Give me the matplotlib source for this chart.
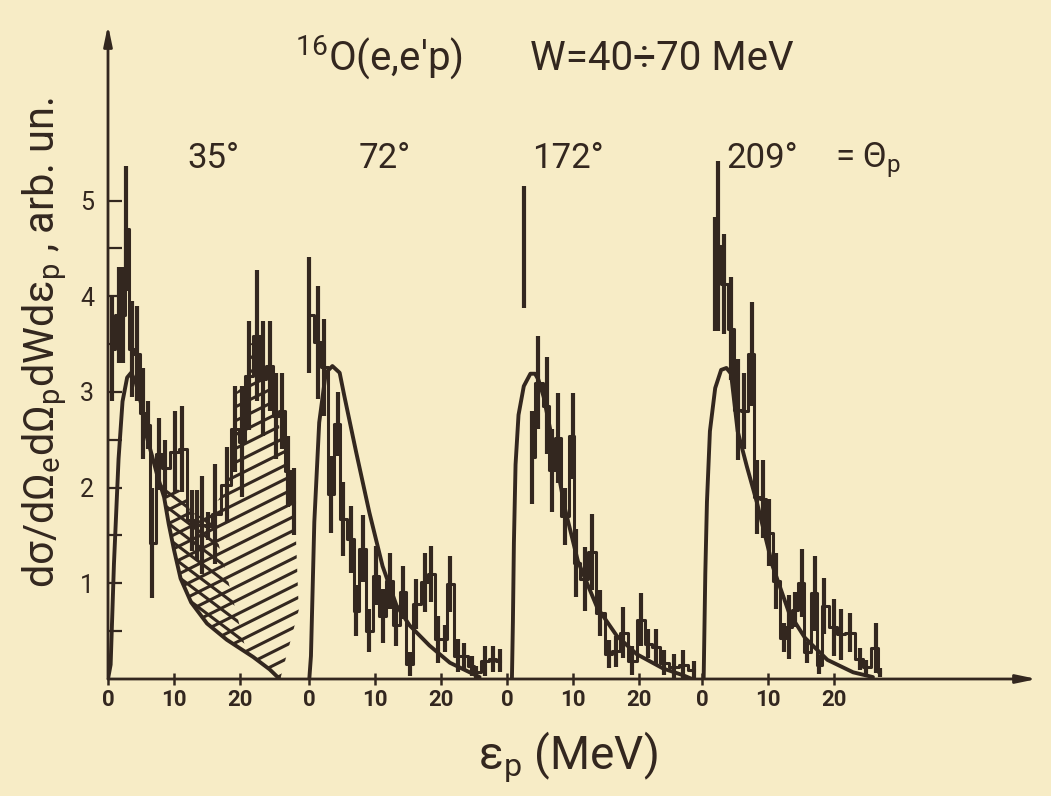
import numpy as np
import matplotlib
matplotlib.use('Agg')
import matplotlib.pyplot as plt
from matplotlib.patches import Polygon

INK = '#33271f'
PAPER = '#f7ecc6'

plt.rcParams['font.family'] = ['Roboto', 'DejaVu Sans']
plt.rcParams['mathtext.default'] = 'regular'

# where each spectrum starts on the common energy axis (MeV)
offsets = [0.0, 30.5, 60.5, 90.0]
angle_labels = ['35°', '72°', '172°', '209°']
tick_values = [0, 10, 20]

# --- measured spectra: proton energy, lower / upper end of the error bar ---
# 35 deg
e1 = [0.6, 1.6, 2.2, 2.8, 3.6, 4.4, 5.3, 6.1, 6.6, 7.8, 8.6, 10.2, 11.2, 12.8, 13.5,
      14.3, 15.2, 16.2, 18.0, 19.3, 20.3, 21.3, 22.5, 23.5, 24.5, 25.4, 26.3, 27.2, 28.2]
lo1 = [2.9, 3.3, 3.3, 4.05, 2.95, 2.9, 2.3, 2.4, 0.85, 1.98, 1.9, 1.95, 1.95, 1.34, 1.24,
       1.1, 1.45, 1.2, 1.63, 2.16, 1.9, 2.6, 2.9, 2.54, 2.8, 2.3, 2.4, 1.8, 1.5]
hi1 = [4.0, 4.3, 4.3, 5.36, 3.95, 3.9, 3.25, 2.9, 2.0, 2.73, 2.5, 2.8, 2.85, 1.98, 1.97,
       2.12, 1.75, 2.25, 2.42, 3.06, 3.06, 3.74, 4.27, 3.74, 3.74, 3.2, 3.2, 2.54, 2.2]

# 72 deg
e2 = [0.0, 1.3, 2.3, 3.3, 4.3, 5.1, 6.3, 7.1, 8.1, 9.1, 10.1, 11.1, 12.2, 13.2, 14.2,
      15.2, 16.2, 17.5, 18.5, 19.5, 20.5, 21.3, 22.5, 23.5, 24.6, 25.3, 26.6, 27.8, 28.9]
lo2 = [3.2, 2.93, 2.75, 1.53, 2.33, 1.29, 1.11, 0.45, 1.01, 0.28, 0.77, 0.38, 0.73, 0.35, 0.63,
       0.03, 0.52, 0.70, 0.80, 0.17, 0.28, 0.70, 0.07, 0.10, 0.03, 0.0, 0.03, 0.07, 0.07]
hi2 = [4.41, 4.11, 3.76, 2.33, 3.0, 2.06, 1.81, 0.98, 1.71, 0.73, 1.39, 0.94, 1.32, 0.77, 1.18,
       0.28, 1.05, 1.32, 1.39, 0.66, 0.56, 1.29, 0.42, 0.38, 0.24, 0.14, 0.35, 0.35, 0.31]

# 172 deg (plus one lone bar near the rise)
lone3_e, lone3_lo, lone3_hi = 2.6, 3.88, 5.15
e3 = [3.7, 4.7, 6.0, 6.7, 7.7, 8.7, 9.9, 10.4, 11.7, 12.9, 14.1, 15.4, 16.4, 17.6,
      18.9, 20.3, 21.3, 22.6, 23.8, 25.3, 26.6, 28.3]
lo3 = [1.83, 2.61, 2.35, 1.75, 2.05, 1.4, 2.09, 0.86, 0.71, 0.93, 0.45, 0.11, 0.13, 0.22,
       0.04, 0.34, 0.22, 0.15, 0.04, 0.0, 0.0, 0.0]
hi3 = [2.8, 3.58, 3.36, 2.61, 2.99, 2.0, 2.99, 1.57, 1.38, 1.72, 0.93, 0.41, 0.45, 0.75,
       0.34, 0.9, 0.52, 0.52, 0.3, 0.26, 0.3, 0.19]

# 209 deg
e4 = [2.0, 2.4, 3.4, 4.4, 5.4, 6.3, 7.6, 8.3, 9.3, 10.2, 11.2, 12.4, 13.2, 14.1, 15.1,
      15.9, 17.1, 17.8, 18.5, 20.0, 21.0, 22.4, 23.9, 24.9, 26.3, 27.0]
lo4 = [3.64, 3.64, 3.6, 3.12, 2.29, 2.4, 2.85, 1.51, 1.47, 1.18, 0.73, 0.28, 0.21, 0.54, 0.65,
       0.17, 0.5, 0.05, 0.47, 0.24, 0.2, 0.28, 0.09, 0.05, 0.06, 0.02]
hi4 = [4.83, 5.41, 4.65, 4.2, 3.34, 3.2, 3.94, 2.29, 2.29, 1.88, 1.32, 0.58, 0.88, 0.91, 1.36,
       0.39, 1.29, 0.25, 1.06, 0.84, 0.73, 0.69, 0.32, 0.2, 0.58, 0.12]

# --- calculated curves ---
c1_e = [0.0, 0.4, 0.9, 1.6, 2.2, 2.9, 3.5, 4.2, 5.0, 5.8, 6.6, 7.5, 8.5, 9.2, 10.0, 11.0,
        12.6, 15.0, 18.0, 22.0, 24.5, 26.0]
c1_u = [0.0, 0.15, 1.2, 2.3, 2.9, 3.15, 3.2, 3.1, 2.88, 2.55, 2.35, 2.12, 1.9, 1.62, 1.35, 1.05,
        0.8, 0.58, 0.41, 0.23, 0.1, 0.0]
c2_e = [0.0, 0.25, 0.76, 1.5, 2.5, 3.5, 4.6, 5.3, 7.1, 9.1, 11.1, 13.2, 15.2, 18.2, 21.3, 24.3, 25.8]
c2_u = [0.0, 0.24, 1.64, 2.68, 3.2, 3.27, 3.2, 2.96, 2.37, 1.74, 1.18, 0.77, 0.56, 0.35, 0.17, 0.07, 0.02]
c3_e = [0.7, 0.85, 1.0, 1.25, 1.7, 2.5, 3.5, 4.2, 4.7, 5.5, 6.7, 8.7, 10.7, 13.6, 16.6, 19.6,
        23.6, 26.6, 28.0]
c3_u = [0.0, 0.6, 1.42, 2.24, 2.76, 3.06, 3.19, 3.19, 3.13, 2.95, 2.54, 1.79, 1.23, 0.75, 0.45,
        0.26, 0.11, 0.04, 0.0]
c4_e = [0.25, 0.5, 0.75, 1.2, 2.0, 2.9, 3.7, 4.4, 5.4, 6.8, 8.3, 10.7, 13.2, 15.6, 19.0, 22.9, 25.9]
c4_u = [0.0, 1.1, 1.85, 2.59, 3.04, 3.23, 3.25, 3.19, 2.59, 2.22, 1.85, 1.18, 0.69, 0.43, 0.2, 0.07, 0.02]

# upper edge of the shaded excess at 35 deg
hatch_e = [7.6, 8.5, 10.0, 11.5, 12.5, 14.0, 15.5, 17.0, 18.0, 19.0, 19.5, 21.0, 21.5, 23.0,
           24.0, 25.0, 26.0, 27.0, 28.3, 28.9, 26.1]
hatch_u = [2.1, 2.0, 2.0, 1.95, 1.75, 1.7, 1.75, 1.9, 2.1, 2.3, 3.0, 3.1, 3.5, 3.55,
           3.2, 3.2, 2.6, 2.3, 1.8, 0.72, 0.0]
cross_top_end = 15.5   # double hatching under the data up to here
cross_low_end = 21.0   # ... and along the curve up to here

PX_PER_MEV = 6.6
PX_PER_UNIT = 95.7


def curve_part(ce, cu, a, b):
    ce = np.asarray(ce)
    cu = np.asarray(cu)
    inner = ce[(ce > a) & (ce < b)]
    xs = np.concatenate([[a], inner, [b]])
    return xs, np.interp(xs, ce, cu)


def hatch_lines(ax, patch, slope, step, x0, x1):
    xx = np.array([x0, x1])
    for c in np.arange(-2.0, 4.5, step):
        ln, = ax.plot(xx, c + slope * (xx - x0), color=INK, lw=2.2, zorder=2)
        ln.set_clip_path(patch)


fig = plt.figure(figsize=(10.51, 7.96), dpi=100, facecolor=PAPER)
ax = fig.add_axes([108 / 1051, 117 / 796, (1045 - 108) / 1051, (679 - 20) / 796])
ax.patch.set_alpha(0)
ax.set_xlim(0, (1045 - 108) / PX_PER_MEV)
ax.set_ylim(0, (679 - 20) / PX_PER_UNIT)
for s in ax.spines.values():
    s.set_visible(False)

# shaded region of panel 1
ce_seg, cu_seg = curve_part(c1_e, c1_u, hatch_e[0], c1_e[-1])
whole = Polygon(np.column_stack([np.concatenate([hatch_e, ce_seg[::-1]]),
                                 np.concatenate([hatch_u, cu_seg[::-1]])]),
                closed=True, facecolor='none', edgecolor='none')
ax.add_patch(whole)
n_top = sum(1 for v in hatch_e[:-1] if v <= cross_top_end)
ce_c, cu_c = curve_part(c1_e, c1_u, hatch_e[0], cross_low_end)
cross = Polygon(np.column_stack([np.concatenate([hatch_e[:n_top], ce_c[::-1]]),
                                 np.concatenate([hatch_u[:n_top], cu_c[::-1]])]),
                closed=True, facecolor='none', edgecolor='none')
ax.add_patch(cross)
hatch_lines(ax, whole, 0.5 * PX_PER_MEV / PX_PER_UNIT, 0.145, 5, 32)
hatch_lines(ax, cross, -0.75 * PX_PER_MEV / PX_PER_UNIT, 0.16, 5, 32)

# spectra
spectra = [(e1, lo1, hi1), (e2, lo2, hi2), (e3, lo3, hi3), (e4, lo4, hi4)]
curves = [(c1_e, c1_u), (c2_e, c2_u), (c3_e, c3_u), (c4_e, c4_u)]
for off, (e, lo, hi), (ce, cu) in zip(offsets, spectra, curves):
    x = np.asarray(e) + off
    lo = np.asarray(lo)
    hi = np.asarray(hi)
    ax.vlines(x, lo, hi, color=INK, lw=3.0, zorder=3)
    ax.plot(x, (lo + hi) / 2, drawstyle='steps-mid', color=INK, lw=2.2, zorder=3)
    ax.plot(np.asarray(ce) + off, cu, color=INK, lw=2.8, zorder=4,
            solid_capstyle='round', solid_joinstyle='round')
ax.vlines(offsets[2] + lone3_e, lone3_lo, lone3_hi, color=INK, lw=3.0, zorder=3)

# axes with arrows
arrow = dict(arrowstyle='-|>,head_length=1.2,head_width=0.25', color=INK, lw=2.0,
             shrinkA=0, shrinkB=0)
ax.annotate('', xy=((1037 - 108) / PX_PER_MEV, 0), xytext=(0, 0), arrowprops=arrow,
            annotation_clip=False)
ax.annotate('', xy=(0, (679 - 25) / PX_PER_UNIT), xytext=(0, 0), arrowprops=arrow,
            annotation_clip=False)

xt = [off + t for off in offsets for t in tick_values]
ax.set_xticks(xt)
ax.set_xticklabels([str(t) for off in offsets for t in tick_values])
ax.tick_params(axis='x', direction='inout', length=9, width=1.8, color=INK,
               labelcolor=INK, labelsize=16, pad=3)
ax.set_yticks([1, 2, 3, 4, 5])
ax.set_yticks(np.arange(0.5, 5.0, 1.0), minor=True)
ax.tick_params(axis='y', which='both', direction='in', length=10, width=1.6, color=INK,
               labelcolor=INK, labelsize=18, pad=10)
for lab in ax.get_xticklabels():
    lab.set_fontweight('bold')

# texts
def ftext(px, py, s, **kw):
    fig.text(px / 1051, 1 - py / 796, s, color=INK, **kw)

ftext(295, 58, "$^{16}$O(e,e'p)", fontsize=29, ha='left', va='center')
ftext(530, 58, 'W=40÷70 MeV', fontsize=29, ha='left', va='center')
for px, lab in zip([213, 385, 568, 762], angle_labels):
    ftext(px, 158, lab, fontsize=25, ha='center', va='center')
ftext(835, 160, '= Θ$_p$', fontsize=25, ha='left', va='center')
ftext(568, 757, 'ε$_p$ (MeV)', fontsize=33, ha='center', va='center')
ftext(45, 342, 'dσ/dΩ$_e$dΩ$_p$dWdε$_p$ , arb. un.', fontsize=30, rotation=90,
      ha='center', va='center')

fig.savefig('out.png', dpi=100, facecolor=PAPER)
